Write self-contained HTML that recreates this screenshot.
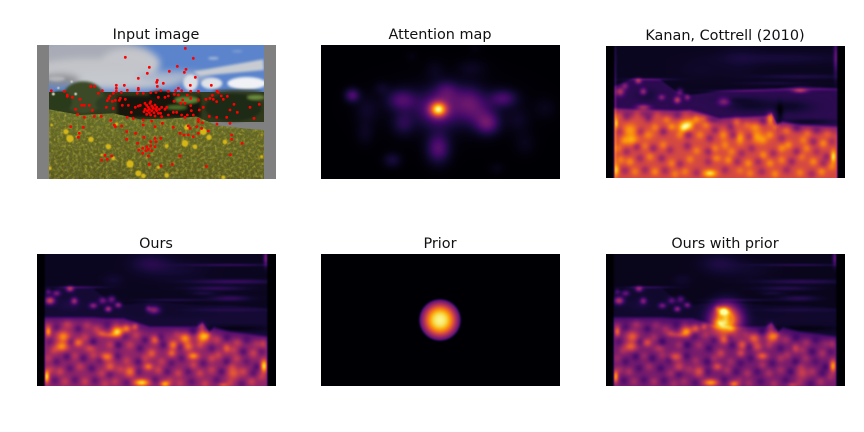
<!DOCTYPE html>
<html lang="en">
<head>
<meta charset="utf-8">
<title>Saliency comparison</title>
<style>
html,body{margin:0;padding:0;background:#fff;}
#figure{position:relative;width:864px;height:432px;overflow:hidden;background:#fff;font-family:"DejaVu Sans","Liberation Sans",sans-serif;}
.title{position:absolute;width:300px;text-align:center;font-size:14.4px;line-height:16px;color:#111;white-space:nowrap;}
canvas,svg.panel{position:absolute;display:block;}
</style>
</head>
<body>
<div id="figure">
  <div class="title" style="left:6px;top:27px">Input image</div>
  <div class="title" style="left:290px;top:27px">Attention map</div>
  <div class="title" style="left:575px;top:28px">Kanan, Cottrell (2010)</div>
  <div class="title" style="left:6px;top:236px">Ours</div>
  <div class="title" style="left:290px;top:236px">Prior</div>
  <div class="title" style="left:575px;top:236px">Ours with prior</div>

  <svg class="panel" id="photo" style="left:37px;top:45px" width="239" height="134" viewBox="21 75 717 402">
    <defs>
      <filter id="soft" x="-30%" y="-30%" width="160%" height="160%"><feGaussianBlur stdDeviation="10"/></filter>
      <filter id="soft2" x="-30%" y="-30%" width="160%" height="160%"><feGaussianBlur stdDeviation="4"/></filter>
      <filter id="soft3" x="-30%" y="-30%" width="160%" height="160%"><feGaussianBlur stdDeviation="1.5"/></filter>
      <filter id="grain" x="0" y="0" width="100%" height="100%"><feTurbulence type="fractalNoise" baseFrequency="0.11" numOctaves="2" seed="4"/><feColorMatrix values="0 0 0 0 0.86  0 0 0 0 0.74  0 0 0 0 0.08  2.2 0 0 0 -0.95"/></filter>
      <filter id="grain-dark" x="0" y="0" width="100%" height="100%"><feTurbulence type="fractalNoise" baseFrequency="0.13" numOctaves="2" seed="11"/><feColorMatrix values="0 0 0 0 0.14  0 0 0 0 0.17  0 0 0 0 0.05  2.2 0 0 0 -0.9"/></filter>
      <linearGradient id="meadow-fill" x1="0" y1="0" x2="0" y2="1"><stop offset="0" stop-color="#676f26"/><stop offset="0.5" stop-color="#62631e"/><stop offset="1" stop-color="#5a581a"/></linearGradient>
      <clipPath id="photo-clip"><rect x="57" y="75" width="645" height="402"/></clipPath>
      <clipPath id="meadow-clip"><path d="M57 268 L150 285 L250 280 L330 298 L420 296 L500 290 L560 316 L640 325 L702 330 L702 477 L57 477 Z"/></clipPath>
    </defs>
    <rect x="21" y="75" width="717" height="402" fill="#808080"/>
    <g clip-path="url(#photo-clip)">
      <rect x="57" y="75" width="645" height="160" fill="#5b84cc"/>
      <g filter="url(#soft)">
        <ellipse cx="170" cy="110" rx="200" ry="55" fill="#a9acb6"/>
        <ellipse cx="300" cy="130" rx="90" ry="45" fill="#c4c6cc"/>
        <ellipse cx="180" cy="150" rx="170" ry="35" fill="#c2c4c9"/>
        <ellipse cx="270" cy="180" rx="190" ry="28" fill="#c5c8cd"/>
        <ellipse cx="90" cy="180" rx="60" ry="18" fill="#8c8e94"/>
        <ellipse cx="430" cy="170" rx="110" ry="16" fill="#a9b5cc"/>
      </g>
      <g filter="url(#soft2)">
        <path d="M490 155 L700 118 L702 150 L510 168 Z" fill="#c8ccd2"/>
        <ellipse cx="650" cy="190" rx="58" ry="19" fill="#f0f2f5"/>
        <ellipse cx="545" cy="190" rx="32" ry="17" fill="#dfe2e7"/>
        <ellipse cx="482" cy="188" rx="22" ry="24" fill="#dcdfe4"/>
        <ellipse cx="550" cy="115" rx="16" ry="4" fill="#a8bad8"/>
        <ellipse cx="622" cy="94" rx="16" ry="4" fill="#7e9bd0"/>
        <ellipse cx="80" cy="176" rx="25" ry="8" fill="#b3b5b9"/>
      </g>
      <rect x="57" y="216" width="645" height="90" fill="#30391c"/>
      <g filter="url(#soft2)">
        <ellipse cx="160" cy="232" rx="62" ry="48" fill="#3a4827"/>
        <ellipse cx="90" cy="245" rx="36" ry="32" fill="#2b3a1e"/>
        <ellipse cx="225" cy="252" rx="28" ry="22" fill="#2f3c22"/>
        <rect x="262" y="228" width="250" height="64" fill="#14180e"/>
        <ellipse cx="392" cy="224" rx="36" ry="12" fill="#10140c"/>
        <ellipse cx="470" cy="240" rx="36" ry="10" fill="#5e8434"/>
        <ellipse cx="440" cy="262" rx="30" ry="6" fill="#4e6f2c"/>
        <ellipse cx="610" cy="262" rx="85" ry="42" fill="#1f2a17"/>
        <ellipse cx="678" cy="232" rx="26" ry="7" fill="#6c8c3e"/>
        <ellipse cx="622" cy="214" rx="75" ry="5" fill="#343f2d"/>
      </g>
      <g filter="url(#soft3)" fill="#d8d6c8">
        <circle cx="125" cy="185" r="3.5"/><circle cx="85" cy="204" r="3.5"/><circle cx="70" cy="222" r="4.5"/><circle cx="137" cy="222" r="4"/>
      </g>
      <g clip-path="url(#meadow-clip)">
        <rect x="57" y="260" width="645" height="217" fill="url(#meadow-fill)"/>
        <rect x="57" y="260" width="645" height="217" filter="url(#grain)" opacity="0.5"/>
        <rect x="57" y="260" width="645" height="217" filter="url(#grain-dark)" opacity="0.85"/>
      </g>
      <g id="flowers" filter="url(#soft3)" fill="#d6b614"></g>
      <g id="fixations"></g>
    </g>
  </svg>

  <canvas id="attention" width="239" height="134" style="left:321px;top:45px"></canvas>
  <canvas id="kanan" width="239" height="132" style="left:606px;top:46px"></canvas>
  <canvas id="ours" width="239" height="132" style="left:37px;top:254px"></canvas>
  <canvas id="prior" width="239" height="132" style="left:321px;top:254px"></canvas>
  <canvas id="combined" width="239" height="132" style="left:606px;top:254px"></canvas>
</div>

<script>
// Fixation points [x, y]
const fixationPoints = [
[466,85],[286,112],[490,115],[442,139],[358,142],[468,148],[418,154],[463,157],[352,160],[325,175],[496,172],[382,181],[380,187],[400,190],[283,196],[259,196],[481,196],[382,199],[544,196],[325,205],[325,209],[259,205],[292,211],[445,205],[259,214],[274,217],[250,220],[322,220],[340,220],
[112,225],[112,229],[182,199],[193,199],[205,220],[217,212],[64,212],[103,214],[127,232],[150,238],[155,256],[163,256],[178,256],[187,271],[137,268],[143,283],[163,292],[193,289],[214,289],[122,320],[148,340],[145,352],[160,322],[242,301],[253,315],[256,320],[275,318],[292,292],[310,295],[240,228],[236,235],[232,242],[229,262],[247,244],[256,241],[268,241],[271,235],[286,238],[250,265],[277,256],[295,256],[304,277],[316,262],[325,258],[331,256],
[345,250],[350,256],[355,262],[360,250],[365,258],[370,265],[375,255],[380,262],[345,268],[352,272],[358,278],[365,272],[372,278],[380,272],[388,268],[342,275],[362,285],[375,288],[350,283],[368,262],[358,268],[378,268],[362,245],[385,280],[395,262],[405,268],[415,285],[410,262],[392,280],
[362,218],[378,217],[392,212],[415,214],[437,212],[455,212],[482,214],[505,214],[385,232],[405,232],[415,228],[433,223],[445,225],[472,225],[482,235],[458,240],[452,250],[432,244],[465,250],[482,257],[505,240],[528,238],[540,235],[550,238],[547,226],[561,214],[565,217],[574,228],[592,229],[580,238],[560,245],[508,270],[484,272],[472,285],[455,285],[440,277],[430,277],[465,292],[490,285],[520,262],[538,289],[560,292],[590,292],[600,270],[612,253],[622,277],[660,262],[672,295],[688,253],
[505,298],[505,305],[517,308],[475,318],[480,325],[500,320],[515,325],[535,333],[450,340],[462,345],[475,345],[490,350],[505,340],[430,322],[397,310],[375,320],[340,300],[365,303],[395,290],[340,315],[317,340],[290,335],[290,358],[342,352],[392,355],[375,355],[362,365],[378,365],[375,380],[350,380],[362,378],[338,385],[348,392],[355,388],[365,392],[338,400],[355,408],[323,370],[326,390],[450,408],[427,433],[393,438],[358,433],[529,439],[601,404],[636,370],[605,345],[605,358],[561,312],[600,310],[215,420],[225,406],[232,418],[245,408]
];
// Yellow flower clusters in the meadow [x, y, radius]
const flowerClusters = [
[120,356,11],[108,335,8],[148,340,5],[183,358,8],[235,380,8],[300,432,11],[325,460,9],[340,468,7],[410,466,7],[465,370,10],[495,380,7],[520,335,10],[537,352,8],[585,366,7],[250,415,6],[60,445,5],[695,410,5],[470,322,8],[410,378,6],[385,442,5],[580,472,6],[65,315,4],[215,405,4],[695,345,3],[260,312,5]
];
// Heat blobs [x, y, sigmaX, sigmaY, amount]
const attentionBlobs = [
[370,268,17,15,0.68],[370,268,42,36,0.24],[400,262,120,55,0.07],[112,226,15,14,0.22],[155,270,24,30,0.06],[150,340,18,24,0.05],[260,240,30,22,0.2],[200,205,16,14,0.05],[265,310,22,24,0.12],[395,212,24,22,0.14],[460,240,32,30,0.17],[490,280,36,30,0.14],[518,312,24,22,0.22],[565,235,28,18,0.19],[370,385,24,30,0.24],[232,420,18,15,0.1],[610,300,24,26,0.05],[690,265,22,22,0.04],[630,370,22,24,0.04],[360,150,20,20,0.04],[470,145,30,18,0.05],[545,445,16,12,0.03],[290,110,12,12,0.02],[480,85,12,12,0.02]
];
const kananBlobs = [
[60,215,9,9,0.32],[75,198,7,7,0.2],[115,183,7,6,0.3],[130,215,7,7,0.28],[185,232,7,6,0.22],[232,240,7,7,0.35],[262,232,6,6,0.22],[240,215,7,7,0.2],[130,262,14,6,0.3],[372,245,12,8,0.24],[600,212,15,5,0.3],[90,330,15,14,0.2],[95,360,14,11,0.22],[145,345,12,10,0.14],[215,320,9,8,0.16],[265,315,17,11,0.36],[250,325,10,9,0.22],[290,295,9,9,0.2],[310,295,8,7,0.14],[410,305,9,9,0.18],[510,295,8,12,0.28],[530,320,8,7,0.14],[465,320,12,10,0.15],[470,350,13,14,0.2],[490,360,10,10,0.14],[420,355,9,14,0.2],[370,345,9,10,0.15],[375,375,9,10,0.14],[330,460,14,8,0.34],[700,410,6,13,0.36],[50,450,6,12,0.26],[50,310,4,10,0.22],[350,415,10,8,0.14],
[540,280,7,20,-0.1],[340,300,14,7,-0.1],[620,305,60,6,-0.08],[120,285,30,8,-0.06],
[140,225,22,14,-0.05],[400,240,40,6,-0.04],[450,255,45,14,-0.08],[570,260,45,14,-0.08],
[300,150,50,20,0.02],[540,115,130,12,0.05],[600,170,90,5,0.07],[520,190,70,4,0.05],[420,120,40,30,0.03],[620,208,90,3,0.1],[430,212,70,3,0.1],[150,178,50,3,0.12],[708,110,5,40,0.22],[46,300,3,170,0.14]
];
const oursBlobs = [
[60,212,10,8,0.45],[120,177,8,6,0.36],[80,190,8,6,0.24],[55,185,6,6,0.18],[133,213,7,7,0.32],[190,227,8,6,0.28],[218,212,8,7,0.22],[245,208,8,7,0.25],[265,225,7,6,0.3],[235,237,7,6,0.35],[372,240,12,8,0.3],[355,235,6,6,0.15],[55,305,6,10,0.36],[100,320,14,12,0.34],[95,350,14,10,0.34],[145,338,10,9,0.28],[180,355,12,8,0.16],[262,305,12,10,0.5],[240,315,16,6,0.18],[290,295,9,9,0.3],[315,290,7,7,0.26],[215,310,10,7,0.18],[375,330,9,9,0.25],[430,345,10,10,0.3],[425,370,9,8,0.24],[465,325,12,11,0.34],[475,350,11,10,0.25],[490,378,12,8,0.34],[520,320,13,12,0.44],[535,315,7,7,0.14],[515,290,8,9,0.16],[590,355,8,10,0.22],[230,380,14,9,0.3],[240,410,11,11,0.22],[300,425,12,12,0.28],[355,410,10,8,0.28],[365,370,10,10,0.22],[335,458,16,8,0.5],[405,462,10,7,0.4],[50,440,6,13,0.5],[702,408,7,13,0.52],[610,430,13,13,0.22],[580,465,10,5,0.2],[700,340,7,10,0.14],[120,280,30,8,0.05],
[620,295,70,6,-0.06],[120,225,25,12,0.03],[430,240,70,12,-0.02],
[600,105,90,3,0.11],[610,155,90,5,0.13],[560,175,60,5,0.11],[520,190,25,4,0.07],[600,205,40,6,0.12],[430,210,70,3,0.08],[360,100,40,20,0.08],[440,120,60,20,0.04],[250,150,20,12,0.04],[150,172,50,3,0.12],[708,85,5,16,0.28],[590,240,90,4,0.05]
];
const combinedExtraBlobs = [
[370,246,13,9,0.22],[360,282,16,10,0.28],[395,296,9,7,0.14],[378,265,8,14,0.12]
];
// Meadow mottling read as light and dark patches [x, y, amount]
const meadowPatches = [
[55,285,0.06],[80,292,-0.1],[112,283,0.1],[145,296,-0.12],[172,284,0.08],[200,298,0.1],[232,288,-0.08],[258,282,0.06],[285,318,-0.1],[318,315,0.1],[345,330,-0.12],[392,322,-0.12],[440,312,0.08],[490,305,-0.1],[560,330,0.1],[590,325,-0.1],[622,338,0.1],[650,332,-0.08],[682,340,0.08],
[60,335,-0.08],[72,362,0.1],[122,335,-0.1],[165,322,0.1],[190,335,-0.14],[240,345,0.1],[265,345,-0.14],[300,345,0.1],[330,355,-0.12],[400,345,-0.12],[450,350,-0.1],[510,345,0.12],[545,355,-0.1],[565,375,0.12],[610,360,0.1],[640,365,-0.12],[670,370,0.12],[695,365,-0.08],
[55,385,0.08],[80,395,-0.1],[110,380,-0.12],[135,378,0.08],[160,385,-0.12],[190,375,0.1],[210,390,-0.1],[262,378,-0.12],[290,392,0.1],[325,395,-0.12],[345,385,0.1],[395,395,0.1],[425,400,-0.1],[455,385,-0.1],[490,405,0.12],[520,400,-0.1],[545,385,0.12],[590,395,-0.12],[620,385,0.1],[650,395,-0.08],[680,410,-0.12],
[62,420,0.1],[90,425,0.12],[120,415,-0.1],[150,410,0.1],[185,415,-0.12],[215,430,0.1],[240,432,-0.1],[270,418,0.1],[325,425,-0.1],[385,420,0.12],[412,425,-0.1],[445,430,0.12],[475,425,-0.1],[510,430,0.12],[545,420,0.1],[575,425,-0.12],[605,410,0.08],[640,425,0.12],[670,430,-0.1],[695,440,0.1],
[75,452,-0.1],[105,455,0.1],[135,450,-0.1],[165,455,0.12],[195,452,-0.1],[225,462,0.1],[255,455,0.1],[290,458,-0.1],[375,450,-0.1],[420,452,0.08],[450,460,0.1],[485,455,-0.1],[525,462,0.12],[560,450,-0.1],[600,458,0.1],[635,462,-0.1],[665,455,0.12]
];
// Edge profiles for the scene regions
const kananEdgeX = [40,100,180,230,270,360,500,515,532,548,600,712];
const kananHillY = [200,175,178,215,225,213,207,206,206,204,198,205];
const kananMeadowY = [265,268,270,272,270,295,288,280,312,305,315,320];
const oursEdgeX = [40,100,190,230,280,360,500,518,538,552,600,715];
const oursHillY = [190,170,175,210,225,215,225,226,226,226,225,235];
const oursMeadowY = [262,262,262,265,265,290,290,278,305,292,305,320];
const infernoStops = ['#000004','#160b39','#420a68','#6a176e','#932667','#bc3754','#dd513a','#f37819','#fca50a','#f6d746','#fcffa4'];

const infernoRgb = infernoStops.map(h => [parseInt(h.slice(1,3),16),parseInt(h.slice(3,5),16),parseInt(h.slice(5,7),16)]);
function edgeAt(xs, ys, x){
  if (x <= xs[0]) return ys[0];
  for (let i = 1; i < xs.length; i++) {
    if (x <= xs[i]) return ys[i-1] + (ys[i]-ys[i-1]) * (x-xs[i-1]) / (xs[i]-xs[i-1]);
  }
  return ys[ys.length-1];
}
function step(a, b, v){
  const t = Math.min(1, Math.max(0, (v-a)/(b-a)));
  return t*t*(3-2*t);
}
function blobSum(blobs, x, y){
  let s = 0;
  for (const b of blobs) {
    const dx = (x-b[0])/b[2], dy = (y-b[1])/b[3];
    s += b[4]*Math.exp(-0.5*(dx*dx+dy*dy));
  }
  return s;
}
function patchSum(x, y, gain){
  let s = 0;
  for (const p of meadowPatches) {
    const dx = x-p[0], dy = y-p[1];
    s += p[2]*Math.exp(-(dx*dx+dy*dy)/(2*9*9));
  }
  return s*gain;
}
function paint(id, x0, y0, field){
  const c = document.getElementById(id);
  const ctx = c.getContext('2d');
  const im = ctx.createImageData(c.width, c.height);
  for (let j = 0; j < c.height; j++) {
    for (let i = 0; i < c.width; i++) {
      const t = Math.min(0.999, Math.max(0, field((i+0.5)*3+x0, (j+0.5)*3+y0, i, j)));
      const p = t*10, k = Math.floor(p), f = p-k;
      const a = infernoRgb[k], b = infernoRgb[k+1], o = (j*c.width+i)*4;
      im.data[o] = a[0]+(b[0]-a[0])*f;
      im.data[o+1] = a[1]+(b[1]-a[1])*f;
      im.data[o+2] = a[2]+(b[2]-a[2])*f;
      im.data[o+3] = 255;
    }
  }
  ctx.putImageData(im, 0, 0);
}
function kananField(x, y){
  const hill = edgeAt(kananEdgeX, kananHillY, x), mead = edgeAt(kananEdgeX, kananMeadowY, x);
  const m = step(mead-7, mead+7, y);
  let v = 0.05 + 0.1*step(hill-5, hill+5, y) + 0.24*m + 0.16*step(mead, mead+34, y);
  v += 0.02*step(mead, mead+60, y);
  v += m*patchSum(x, y, 1.25);
  v += blobSum(kananBlobs, x, y);
  return v*step(38, 46, x)*(1-step(708, 716, x));
}
function oursField(x, y){
  const hill = edgeAt(oursEdgeX, oursHillY, x), mead = edgeAt(oursEdgeX, oursMeadowY, x);
  const m = step(mead-7, mead+7, y);
  let v = 0.05 + 0.04*step(hill-5, hill+5, y) + 0.18*m + 0.12*step(mead, mead+34, y);
  v += m*patchSum(x, y, 1.1);
  v += blobSum(oursBlobs, x, y);
  return v*step(40, 48, x)*(1-step(708, 716, x));
}
function combinedField(x, y){
  const base = oursField(x+3, y);
  const dx = x-378, dy = y-268;
  const bump = Math.min(1, 1.3*Math.exp(-(dx*dx+dy*dy)/(2*30*30)))*0.62;
  return base*0.85 + bump + blobSum(combinedExtraBlobs, x, y);
}
paint('attention', 18, 75, (x, y) => blobSum(attentionBlobs, x, y));
paint('kanan', 18, 78, kananField);
paint('ours', 21, 72, oursField);
paint('prior', 0, 0, (x, y, i, j) => {
  const r = Math.hypot(i+0.5-119, j+0.5-66);
  return 0.97*Math.exp(-Math.pow(r/18, 2.5))*(1-step(19, 22.5, r));
});
paint('combined', 18, 72, combinedField);

const svgNs = 'http://www.w3.org/2000/svg';
const flowerGroup = document.getElementById('flowers');
for (const f of flowerClusters) {
  const el = document.createElementNS(svgNs, 'circle');
  
  
  el.setAttribute('cx', f[0]);
  el.setAttribute('cy', f[1]);
  el.setAttribute('r', f[2]);
  flowerGroup.appendChild(el);
}
const fixationGroup = document.getElementById('fixations');
for (const p of fixationPoints) {
  const el = document.createElementNS(svgNs, 'circle');
  
  
  el.setAttribute('cx', p[0]);
  el.setAttribute('cy', p[1]);
  el.setAttribute('r', 4.2);
  el.setAttribute('fill', '#f00');
  fixationGroup.appendChild(el);
}
</script>
</body>
</html>
